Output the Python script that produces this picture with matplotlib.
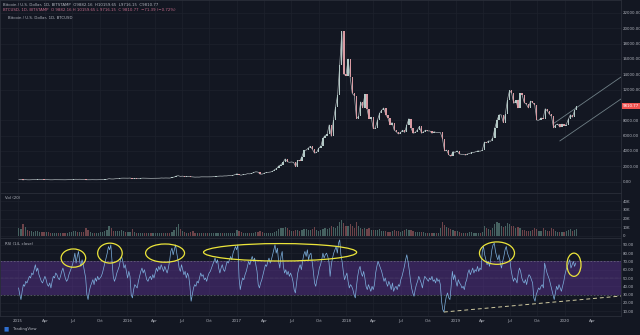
import numpy as np
import pandas as pd
import matplotlib
matplotlib.use('Agg')
from matplotlib import pyplot as plt
from matplotlib import dates as mdates
from matplotlib.patches import Ellipse
from matplotlib.transforms import blended_transform_factory

# weekly closes BTC/USD (Sundays, 2015-01-04 .. 2020-02-09)
close_2015 = [270, 270, 210, 250, 225, 220, 235, 240, 260, 275, 285, 265, 245,
              255, 235, 225, 225, 240, 240, 235, 240, 230, 225, 235, 245, 255,
              270, 290, 280, 290, 280, 265, 230, 225, 230, 240, 230, 230, 235,
              245, 255, 270, 290, 370, 330, 325, 360, 380, 395, 435, 440, 430]
close_2016 = [430, 450, 385, 400, 375, 380, 405, 440, 430, 410, 415, 410, 420,
              420, 420, 430, 460, 445, 460, 455, 445, 530, 575, 700, 760, 665,
              700, 650, 665, 655, 625, 590, 570, 580, 575, 610, 605, 610, 605,
              610, 615, 640, 655, 700, 710, 700, 730, 730, 765, 775, 790, 895]
close_2017 = [1000, 900, 820, 920, 920, 1020, 1000, 1050, 1180, 1270, 1230, 970,
              960, 1080, 1180, 1200, 1240, 1340, 1550, 1720, 2050, 2200, 2500,
              2950, 2600, 2500, 2550, 2500, 1930, 2750, 2700, 3250, 4050, 4100,
              4350, 4600, 4200, 3700, 3800, 4350, 4600, 5650, 6000, 6150, 7400,
              5900, 8000, 9700, 11300, 15200, 19600, 14000, 13800]
close_2018 = [16000, 13600, 11500, 11200, 8200, 8500, 10400, 9600, 11400, 9500,
              8200, 8400, 6900, 7000, 8000, 8900, 9300, 9600, 8700, 8300, 7400,
              7700, 6700, 6500, 6200, 6400, 6700, 6400, 7400, 8200, 7000, 6300,
              6400, 6700, 7200, 6300, 6500, 6700, 6600, 6600, 6300, 6500, 6400,
              6400, 6400, 5600, 4000, 4100, 3500, 3300, 3900, 3800]
close_2019 = [4000, 3600, 3550, 3550, 3450, 3600, 3650, 3800, 3800, 3900, 4000,
              3950, 4100, 5150, 5050, 5300, 5250, 5700, 7000, 8000, 8700, 8700,
              7700, 8800, 10700, 11900, 11500, 10200, 10600, 9600, 11500, 11300,
              10300, 10100, 9600, 10500, 10300, 10000, 8000, 8000, 8300, 8200,
              9500, 9200, 8800, 8500, 7000, 7400, 7500, 7100, 7500, 7300]
close_2020 = [7400, 8100, 8700, 8400, 9300, 9810.77]

volume_2015 = [9, 8, 14, 10, 7, 6, 6, 5, 6, 6, 5, 5, 5, 5, 5, 4, 4, 4, 4, 4, 4, 4,
               4, 4, 5, 5, 6, 6, 5, 5, 5, 5, 9, 7, 5, 4, 4, 4, 4, 5, 5, 6, 7, 12,
               9, 6, 6, 6, 6, 7, 6, 5]
volume_2016 = [5, 5, 8, 5, 4, 4, 4, 4, 4, 3, 3, 3, 3, 3, 3, 3, 3, 3, 3, 3, 3, 5,
               7, 10, 14, 8, 6, 5, 4, 4, 5, 6, 4, 3, 3, 3, 3, 3, 3, 3, 3, 3, 4,
               4, 4, 4, 3, 3, 3, 3, 3, 4]
volume_2017 = [7, 6, 5, 4, 4, 4, 4, 4, 4, 5, 5, 6, 5, 4, 4, 4, 4, 4, 5, 6, 8, 9,
               9, 10, 9, 7, 6, 6, 7, 7, 6, 7, 8, 8, 7, 7, 8, 10, 7, 6, 7, 8, 9,
               8, 9, 12, 10, 9, 12, 16, 18, 15, 12]
volume_2018 = [12, 14, 12, 9, 16, 11, 9, 8, 9, 8, 9, 7, 7, 7, 7, 8, 6, 6, 6, 5,
               5, 6, 7, 6, 6, 5, 6, 7, 8, 7, 7, 6, 5, 5, 5, 5, 5, 4, 4, 4, 4, 4,
               3, 3, 9, 16, 13, 10, 9, 8, 7, 6]
volume_2019 = [6, 5, 4, 4, 4, 4, 5, 5, 4, 4, 4, 4, 5, 12, 9, 8, 7, 9, 14, 16, 15,
               11, 10, 12, 15, 14, 12, 11, 9, 10, 9, 7, 7, 6, 6, 6, 7, 9, 8, 6,
               6, 9, 7, 6, 6, 9, 8, 6, 5, 5, 5, 5]
volume_2020 = [6, 7, 8, 6, 7, 8]

# RSI(14) sampled every 4 days from 2015-01-03
rsi_values = (
    [38, 30, 24, 34, 42, 40, 46, 44, 48, 52, 50, 56, 54, 60, 66, 58, 62, 54, 50, 46, 44, 48, 52]
    + [48, 42, 40, 44, 38, 46, 52, 50, 56, 54, 50, 48, 52, 58, 62, 56, 50, 46, 48, 54, 58, 62, 66]
    + [72, 80, 68, 76, 82, 70, 64, 72, 66, 58, 50, 30, 24, 34, 40, 44, 48, 42, 50, 46, 52, 48, 50]
    + [52, 56, 62, 68, 74, 80, 88, 84, 90, 70, 52, 46, 50, 56, 60, 64, 72, 76, 70, 62, 66, 58]
    + [50, 58, 52, 30, 26, 36, 42, 40, 38, 46, 52, 58, 62, 56, 60, 54, 48, 46, 50, 52, 48, 54, 50]
    + [56, 62, 58, 64, 60, 66, 62, 58, 64, 60, 56, 62, 70, 82, 86, 78, 84, 90, 80, 72, 62, 58, 66]
    + [60, 54, 58, 50, 56, 52, 40, 22, 30, 38, 42, 40, 46, 44, 50, 56, 52, 54, 48, 50, 46, 52, 56]
    + [58, 62, 66, 70, 74, 68, 72, 62, 56, 62, 66, 60, 58, 64, 70, 68, 72, 76, 72, 80, 84, 88]
    + [84, 90, 50, 36, 44, 50, 48, 54, 58, 64, 70, 66, 72, 76, 70, 74, 66, 58, 42, 38, 44, 48, 54]
    + [60, 66, 64, 70, 74, 68, 72, 78, 84, 90, 80, 86, 70, 62, 76, 82, 64, 56, 60, 54, 58, 52, 56]
    + [52, 46, 36, 32, 44, 56, 62, 66, 60, 70, 78, 82, 76, 84, 72, 78, 80, 70, 58, 44, 40, 48, 54]
    + [62, 66, 72, 80, 74, 78, 80, 76, 70, 52, 66, 74, 80, 84, 88, 80, 92, 96, 78, 70, 58, 48]
    + [52, 56, 46, 38, 42, 40, 36, 30, 26, 40, 52, 60, 64, 56, 52, 58, 50, 40, 36, 42, 38, 34, 40]
    + [36, 42, 56, 64, 70, 66, 62, 58, 52, 46, 50, 44, 40, 46, 42, 36, 44, 34, 38, 40, 36, 42, 40]
    + [48, 52, 58, 64, 72, 78, 70, 60, 48, 38, 32, 28, 36, 42, 46, 52, 48, 44, 38, 46, 52, 50, 48]
    + [46, 50, 48, 52, 46, 48, 44, 50, 46, 48, 42, 22, 12, 9, 20, 28, 32, 26, 24, 40, 58, 48]
    + [54, 46, 40, 48, 44, 42, 38, 40, 36, 44, 48, 56, 60, 54, 58, 62, 56, 60, 58, 64, 58, 62, 60]
    + [82, 88, 78, 72, 66, 70, 64, 72, 84, 90, 92, 82, 76, 72, 78, 68, 62, 70, 76, 84, 88, 80, 76]
    + [72, 60, 52, 46, 50, 48, 44, 56, 62, 58, 50, 46, 44, 48, 42, 50, 54, 52, 48, 44, 26, 22, 30]
    + [34, 38, 36, 40, 42, 38, 68, 62, 56, 52, 48, 42, 36, 30, 24, 32, 40, 36, 42, 38, 34, 40]
    + [46, 54, 60, 64, 68, 72, 62, 66, 70, 64, 68]
)

# hand drawn marks on the RSI pane: centre date, centre rsi, width (days), height
circle_dates = ['2015-07-05', '2015-11-04', '2016-05-06', '2017-05-25', '2019-05-19', '2020-01-31']
circle_rsi = [74, 80, 80, 81, 80, 66]
circle_w = [82, 82, 130, 511, 117, 47]
circle_h = [22, 24, 22, 21, 27, 28]

rsi_trend_dates = ['2018-11-23', '2020-07-06']
rsi_trend_vals = [9, 28.3]
channel_up_dates = ['2019-11-25', '2020-07-06']
channel_up_vals = [7600, 13640]
channel_lo_dates = ['2019-12-15', '2020-07-06']
channel_lo_vals = [5300, 10770]

time_ticks = ['2015-01-01', '2015-04-01', '2015-07-01', '2015-10-01', '2016-01-01',
              '2016-04-01', '2016-07-01', '2016-10-01', '2017-01-01', '2017-04-01',
              '2017-07-01', '2017-10-01', '2018-01-01', '2018-04-01', '2018-07-01',
              '2018-10-01', '2019-01-01', '2019-04-01', '2019-07-01', '2019-10-01',
              '2020-01-01', '2020-04-01']
time_labels = ['2015', 'Apr', 'Jul', 'Oct', '2016', 'Apr', 'Jul', 'Oct', '2017', 'Apr',
               'Jul', 'Oct', '2018', 'Apr', 'Jul', 'Oct', '2019', 'Apr', 'Jul', 'Oct',
               '2020', 'Apr']
price_ticks = [0, 2000, 4000, 6000, 8000, 12000, 14000, 16000, 18000, 20000, 22000]
vol_ticks = [0, 10, 20, 30, 40]
vol_labels = ['0', '10K', '20K', '30K', '40K']
rsi_ticks = [10, 20, 30, 40, 50, 60, 70, 80, 90]

close = np.array(close_2015 + close_2016 + close_2017 + close_2018 + close_2019 + close_2020, float)
volume = np.array(volume_2015 + volume_2016 + volume_2017 + volume_2018 + volume_2019 + volume_2020, float)
price_dates = pd.date_range('2015-01-04', periods=len(close), freq='7D')
rsi_dates = pd.date_range('2015-01-03', periods=len(rsi_values), freq='4D')

bg = '#131722'
grid = '#1e222d'
border = '#2a2e39'
txt = '#b2b5be'
fs = 2.8

fig = plt.figure(figsize=(6.4, 3.35), dpi=100, facecolor=bg)
ax_p = fig.add_axes([0, 0.4239, 0.9703, 0.5761])
ax_v = fig.add_axes([0, 0.2896, 0.9703, 0.1343], sharex=ax_p)
ax_r = fig.add_axes([0, 0.0567, 0.9703, 0.2328], sharex=ax_p)

xmin = pd.Timestamp('2014-11-02')
xmax = pd.Timestamp('2020-07-06')
tick_dates = pd.to_datetime(time_ticks)

for ax in (ax_p, ax_v, ax_r):
    ax.set_facecolor(bg)
    for s in ax.spines.values():
        s.set_color(border)
        s.set_linewidth(0.6)
    ax.yaxis.tick_right()
    ax.tick_params(length=0, labelsize=fs, colors=txt, pad=1.2)
    ax.set_xticks(tick_dates)
    ax.grid(True, color=grid, lw=0.5)
    ax.set_axisbelow(True)
ax_p.set_xlim(xmin, xmax)
plt.setp(ax_p.get_xticklabels(), visible=False)
plt.setp(ax_v.get_xticklabels(), visible=False)
ax_r.set_xticklabels(time_labels)

# price pane
opens = np.r_[close[0], close[:-1]]
up = close >= opens
ax_p.plot(price_dates, close, color='#a9b0b4', lw=0.5, zorder=2)
ax_p.bar(price_dates, close - opens, bottom=opens, width=4.5,
         color=np.where(up, '#b3c9c6', '#d99aa2'), zorder=3)
ax_p.plot(pd.to_datetime(channel_up_dates), channel_up_vals, color='#6f7f86', lw=0.6)
ax_p.plot(pd.to_datetime(channel_lo_dates), channel_lo_vals, color='#6f7f86', lw=0.6)
ax_p.set_ylim(-1500, 23695)
ax_p.set_yticks(price_ticks)
ax_p.set_yticklabels([f'{v:.2f}' for v in price_ticks])
tr = blended_transform_factory(ax_p.transAxes, ax_p.transData)
ax_p.text(1.003, close[-1], f'{close[-1]:.2f}', transform=tr, fontsize=fs, color='white',
          va='center', ha='left', zorder=10, clip_on=False,
          bbox=dict(boxstyle='square,pad=0.25', fc='#ef5350', ec='none'))

fig.text(0.005, 0.99, 'Bitcoin / U.S. Dollar, 1D, BITSTAMP  O9882.16  H10159.65  L9716.15  C9810.77',
         fontsize=fs, color=txt, va='top')
fig.text(0.005, 0.977, 'BTCUSD, 1D, BITSTAMP  O 9882.16 H 10159.65 L 9716.15  C 9810.77  \u221271.39 (\u22120.72%)',
         fontsize=fs, color='#c46b8a', va='top')
fig.text(0.012, 0.952, 'Bitcoin / U.S. Dollar, 1D, BTCUSD', fontsize=fs, color=txt, va='top')

# volume pane
ax_v.bar(price_dates, volume, width=4, color=np.where(up, '#4f6f6c', '#7e4b50'), alpha=0.85)
ax_v.set_ylim(-2.3, 49.4)
ax_v.set_yticks(vol_ticks)
ax_v.set_yticklabels(vol_labels)
ax_v.text(0.008, 0.88, 'Vol (20)', transform=ax_v.transAxes, fontsize=fs, color=txt, va='center')

# RSI pane
ax_r.axhspan(30, 70, color='#7b3fc4', alpha=0.33, lw=0, zorder=1)
ax_r.axhline(70, color='#787b86', lw=0.4, ls=(0, (3, 3)), zorder=1)
ax_r.axhline(30, color='#787b86', lw=0.4, ls=(0, (3, 3)), zorder=1)
ax_r.axhline(50, color='#787b86', lw=0.3, ls=(0, (1, 2)), zorder=1)
ax_r.plot(rsi_dates, rsi_values, color='#7fb2e0', lw=0.5, zorder=3)
ax_r.plot(pd.to_datetime(rsi_trend_dates), rsi_trend_vals, color='#cfc9a0', lw=0.7,
          ls=(0, (4, 3)), zorder=4)
for d, r, w, h in zip(circle_dates, circle_rsi, circle_w, circle_h):
    ax_r.add_patch(Ellipse((mdates.date2num(pd.Timestamp(d)), r), w, h, fill=False,
                           ec='#ece53a', lw=0.9, zorder=5))
ax_r.set_ylim(4.2, 98.2)
ax_r.set_yticks(rsi_ticks)
ax_r.set_yticklabels([f'{v:.2f}' for v in rsi_ticks])
ax_r.text(0.008, 0.92, 'RSI (14, close)', transform=ax_r.transAxes, fontsize=fs, color=txt, va='center')
ax_r.tick_params(axis='x', pad=2.5)

# bottom bar
fig.text(0.005, 0.012, '\u25a0', fontsize=4, color='#2f6fd1', va='bottom')
fig.text(0.02, 0.012, 'TradingView', fontsize=fs, color=txt, va='bottom')

fig.savefig('out.png', dpi=100, facecolor=bg)
